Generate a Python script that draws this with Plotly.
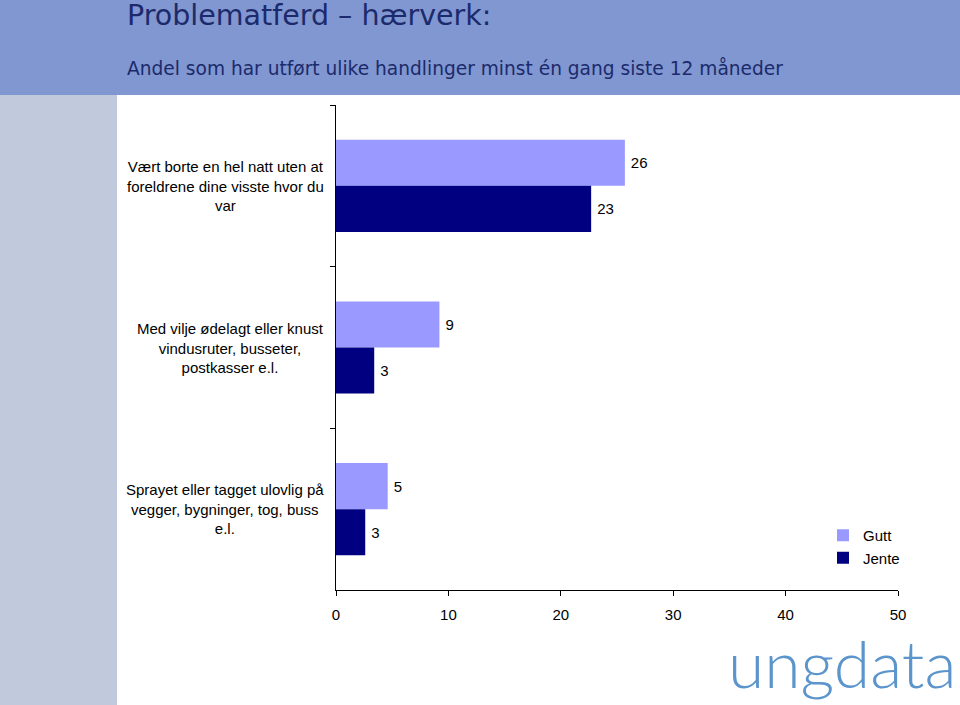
import plotly.graph_objects as go

categories = [
    "Vært borte en hel natt uten at<br>foreldrene dine visste hvor du<br>var",
    "Med vilje ødelagt eller knust<br>vindusruter, busseter,<br>postkasser e.l.",
    "Sprayet eller tagget ulovlig på<br>vegger, bygninger, tog, buss<br>e.l.",
]
gutt = [25.7, 9.2, 4.6]
jente = [22.7, 3.4, 2.6]
x_ticks = [0, 10, 20, 30, 40, 50]

W, H = 960, 705
L, R, T, B = 336, 62, 105, 115
pw, ph = W - L - R, H - T - B
def px(x):
    return (x - L) / pw
def py(y):
    return (H - B - y) / ph

fig = go.Figure()
fig.add_trace(go.Bar(
    y=categories, x=gutt, name="Gutt", orientation="h",
    marker=dict(color="#9999ff", line=dict(width=0)),
    texttemplate="\u2009%{x:.0f}", textposition="outside",
    textfont=dict(family="Liberation Sans, Arial", size=15, color="black"),
    cliponaxis=False,
))
fig.add_trace(go.Bar(
    y=categories, x=jente, name="Jente", orientation="h",
    marker=dict(color="#000080", line=dict(width=0)),
    texttemplate="\u2009%{x:.0f}", textposition="outside",
    textfont=dict(family="Liberation Sans, Arial", size=15, color="black"),
    cliponaxis=False,
))

shapes = [
    dict(type="rect", xref="paper", yref="paper", x0=px(0), x1=px(W), y0=py(95), y1=py(0),
         layer="below", line=dict(width=0), fillcolor="#8097d1"),
    dict(type="rect", xref="paper", yref="paper", x0=px(0), x1=px(117), y0=py(H), y1=py(95),
         layer="below", line=dict(width=0), fillcolor="#c0cadc"),
]

annotations = [
    dict(text="Problematferd – hærverk:", xref="paper", yref="paper", x=px(125), y=py(15),
         xanchor="left", yanchor="middle", showarrow=False,
         font=dict(family="DejaVu Sans, Verdana", size=28.5, color="#1c2a6b")),
    dict(text="Andel som har utført ulike handlinger minst én gang siste 12 måneder",
         xref="paper", yref="paper", x=px(125), y=py(68),
         xanchor="left", yanchor="middle", showarrow=False,
         font=dict(family="DejaVu Sans, Verdana", size=18.6, color="#1c2a6b")),
    dict(text="ungdata", xref="paper", yref="paper", x=px(958), y=py(704),
         xanchor="right", yanchor="bottom", showarrow=False,
         font=dict(family="Lato", size=66, color="#5b95cb", weight=300)),
]
for c in categories:
    annotations.append(dict(text=c, xref="paper", yref="y", x=0, y=c, xanchor="right",
                            yanchor="middle", xshift=-10, align="center", showarrow=False,
                            font=dict(family="Liberation Sans, Arial", size=15, color="black")))

fig.update_layout(
    width=W, height=H,
    margin=dict(l=L, r=R, t=T, b=B),
    paper_bgcolor="white", plot_bgcolor="white",
    barmode="group", bargap=0.43, bargroupgap=0,
    showlegend=True,
    legend=dict(x=px(823), y=py(519), xanchor="left", yanchor="top",
                font=dict(family="Liberation Sans, Arial", size=15, color="black"),
                bgcolor="rgba(0,0,0,0)", itemwidth=30, tracegroupgap=0),
    xaxis=dict(range=[0, 50], tickvals=x_ticks, showgrid=False, zeroline=False,
               showline=True, linecolor="black", linewidth=1,
               ticks="outside", ticklen=5, tickcolor="black", ticklabelstandoff=6,
               tickfont=dict(family="Liberation Sans, Arial", size=15, color="black")),
    yaxis=dict(autorange="reversed", showgrid=False, zeroline=False, showline=True,
               linecolor="black", linewidth=1, showticklabels=False,
               ticks="outside", ticklen=5, tickcolor="black", tickson="boundaries"),
    shapes=shapes, annotations=annotations,
    font=dict(family="Liberation Sans, Arial"),
)

fig.write_html("out.html")
